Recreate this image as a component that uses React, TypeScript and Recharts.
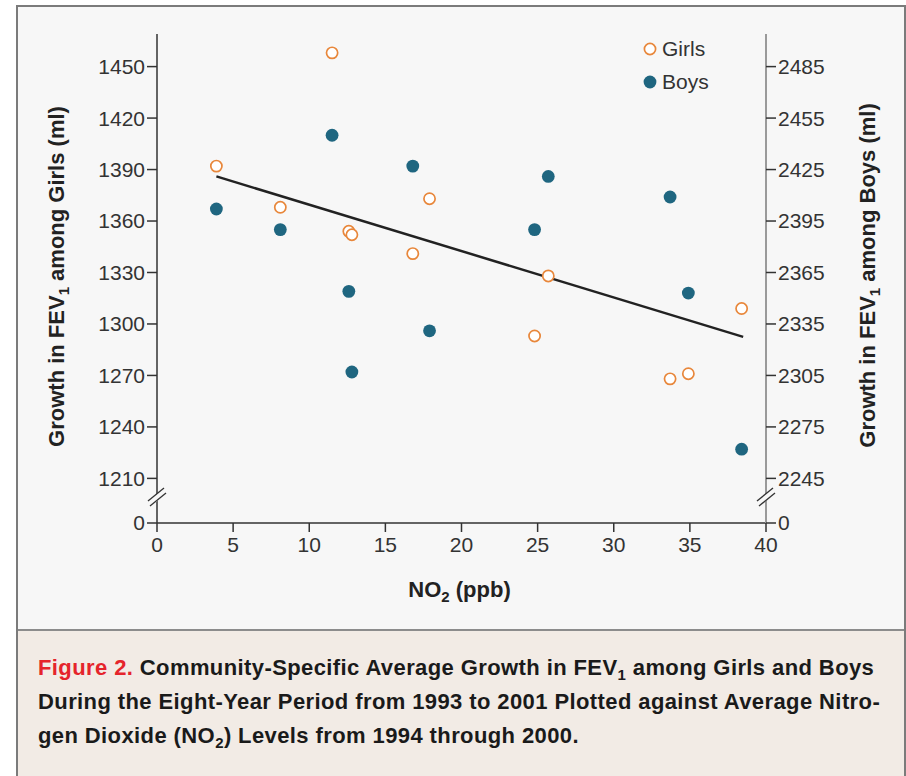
import React from 'react';
import { ScatterChart, Scatter, XAxis, YAxis, ReferenceLine, Legend } from 'recharts';

// ---- data ----
const girlsNO2 = [3.9, 11.5, 8.1, 12.6, 12.8, 17.9, 16.8, 25.7, 24.8, 38.4, 33.7, 34.9];
const girlsFEV = [1392, 1458, 1368, 1354, 1352, 1373, 1341, 1328, 1293, 1309, 1268, 1271];
const boysNO2 = [3.9, 8.1, 11.5, 16.8, 25.7, 24.8, 33.7, 12.6, 17.9, 12.8, 34.9, 38.4];
const boysFEV = [2402, 2390, 2445, 2427, 2421, 2390, 2409, 2354, 2331, 2307, 2353, 2262];
const trendNO2 = [3.9, 38.5];
const trendFEV = [1386, 1292.5];

const xTicks = [0, 5, 10, 15, 20, 25, 30, 35, 40];
const leftTicks = [1184, 1210, 1240, 1270, 1300, 1330, 1360, 1390, 1420, 1450];
const rightTicks = [2219, 2245, 2275, 2305, 2335, 2365, 2395, 2425, 2455, 2485];
const leftDomain = [1184, 1469];
const rightDomain = [2219, 2504];
const legendItems = [
  { name: 'Girls', color: '#e8873b', open: true },
  { name: 'Boys', color: '#1f6680', open: false },
];

const girls = girlsNO2.map((x, i) => ({ x, y: girlsFEV[i] }));
const boys = boysNO2.map((x, i) => ({ x, y: boysFEV[i] }));

const TICK_FONT = '"Liberation Sans", Arial, sans-serif';
const TITLE_FONT = '"Liberation Sans", Arial, sans-serif';

const GirlDot = (p: any) => (
  <circle cx={p.cx} cy={p.cy} r={5.6} fill="#ffffff" stroke="#e8873b" strokeWidth={1.7} />
);
const BoyDot = (p: any) => (
  <circle cx={p.cx} cy={p.cy} r={6.4} fill="#1f6680" stroke="none" />
);

const BreakMark = ({ x, y }: { x: number; y: number }) => (
  <g>
    <line x1={x - 8} y1={y + 7} x2={x + 8} y2={y - 6} stroke="#f7f7f7" strokeWidth={6} />
    <line x1={x - 9} y1={y + 4} x2={x + 7} y2={y - 9} stroke="#333" strokeWidth={1.3} />
    <line x1={x - 7} y1={y + 9} x2={x + 9} y2={y - 4} stroke="#333" strokeWidth={1.3} />
  </g>
);

const AxisTitle = ({ tx, ty, who }: { tx: number; ty: number; who: string }) => (
  <text
    transform={`translate(${tx},${ty}) rotate(-90)`}
    textAnchor="middle"
    fontFamily={TITLE_FONT}
    fontWeight="bold"
    fontSize={22}
    fill="#222"
  >
    Growth in FEV<tspan dy={5} fontSize={15}>1</tspan>
    <tspan dy={-5}>{` among ${who} (ml)`}</tspan>
  </text>
);

const LeftTitle = (props: any) => {
  const vb = props.viewBox;
  const ax = vb.x + vb.width;
  const bottom = vb.y + vb.height;
  return (
    <g>
      <BreakMark x={ax} y={bottom - 26} />
      <AxisTitle tx={64} ty={vb.y + vb.height / 2 - 2} who="Girls" />
    </g>
  );
};

const RightTitle = (props: any) => {
  const vb = props.viewBox;
  const bottom = vb.y + vb.height;
  return (
    <g>
      <BreakMark x={vb.x} y={bottom - 26} />
      <AxisTitle tx={875} ty={vb.y + vb.height / 2 - 3} who="Boys" />
    </g>
  );
};

const XTitle = (props: any) => {
  const vb = props.viewBox;
  return (
    <text
      x={vb.x + vb.width / 2 - 2}
      y={vb.y + 74}
      textAnchor="middle"
      fontFamily={TITLE_FONT}
      fontWeight="bold"
      fontSize={22}
      fill="#222"
    >
      NO<tspan dy={5} fontSize={15}>2</tspan>
      <tspan dy={-5}> (ppb)</tspan>
    </text>
  );
};

const LegendContent = () => (
  <div style={{ fontFamily: TICK_FONT, fontSize: 21, color: '#333' }}>
    {legendItems.map((it) => (
      <div key={it.name} style={{ display: 'flex', alignItems: 'center', height: 33 }}>
        <svg width={16} height={16} style={{ marginRight: 4 }}>
          {it.open ? (
            <circle cx={8} cy={8} r={5.6} fill="#fff" stroke={it.color} strokeWidth={1.7} />
          ) : (
            <circle cx={8} cy={8} r={6.4} fill={it.color} />
          )}
        </svg>
        <span>{it.name}</span>
      </div>
    ))}
  </div>
);

const subStyle: React.CSSProperties = { fontSize: 15, position: 'relative', top: 5, lineHeight: 0 };

export default function App() {
  return (
    <div style={{ position: 'absolute', left: 0, top: 0, width: 906, height: 776, overflow: 'hidden', background: '#ffffff' }}>
      <div style={{ position: 'absolute', left: 16, top: 5, width: 886, height: 820, border: '2px solid #7b7b7b', background: '#f7f7f7' }} />
      <div style={{ position: 'absolute', left: 18, top: 629, width: 886, height: 200, borderTop: '2px solid #8c8c8c', background: '#f2ebe5' }} />
      <div style={{ position: 'absolute', left: 0, top: 0 }}>
        <ScatterChart width={906} height={630} margin={{ top: 34, right: 80, bottom: 67, left: 97 }}>
          <XAxis
            type="number"
            dataKey="x"
            domain={[0, 40]}
            ticks={xTicks}
            interval={0}
            height={40}
            tickSize={9}
            tickMargin={5}
            axisLine={{ stroke: '#333', strokeWidth: 1.5 }}
            tickLine={{ stroke: '#333', strokeWidth: 1.5 }}
            tick={{ fontFamily: TICK_FONT, fontSize: 21, fill: '#333' }}
            label={{ content: XTitle }}
          />
          <YAxis
            yAxisId="left"
            type="number"
            dataKey="y"
            domain={leftDomain}
            ticks={leftTicks}
            interval={0}
            width={60}
            tickSize={10}
            tickMargin={2}
            tickFormatter={(v: number) => (v === leftTicks[0] ? '0' : String(v))}
            axisLine={{ stroke: '#333', strokeWidth: 1.5 }}
            tickLine={{ stroke: '#333', strokeWidth: 1.5 }}
            tick={{ fontFamily: TICK_FONT, fontSize: 21, fill: '#333' }}
            allowDataOverflow
            label={{ content: LeftTitle }}
          />
          <YAxis
            yAxisId="right"
            orientation="right"
            type="number"
            dataKey="y"
            domain={rightDomain}
            ticks={rightTicks}
            interval={0}
            width={60}
            tickSize={10}
            tickMargin={2}
            tickFormatter={(v: number) => (v === rightTicks[0] ? '0' : String(v))}
            axisLine={{ stroke: '#9a9a9a', strokeWidth: 2 }}
            tickLine={{ stroke: '#333', strokeWidth: 1.5 }}
            tick={{ fontFamily: TICK_FONT, fontSize: 21, fill: '#333' }}
            allowDataOverflow
            label={{ content: RightTitle }}
          />
          <ReferenceLine
            yAxisId="left"
            segment={[
              { x: trendNO2[0], y: trendFEV[0] },
              { x: trendNO2[1], y: trendFEV[1] },
            ]}
            stroke="#222"
            strokeWidth={2.5}
          />
          <Scatter name="Girls" yAxisId="left" data={girls} shape={GirlDot} isAnimationActive={false} />
          <Scatter name="Boys" yAxisId="right" data={boys} shape={BoyDot} isAnimationActive={false} />
          <Legend
            layout="vertical"
            align="center"
            verticalAlign="middle"
            wrapperStyle={{ position: 'absolute', left: 642, top: 32, width: 90, height: 66 }}
            content={LegendContent}
          />
        </ScatterChart>
      </div>
      <div
        style={{
          position: 'absolute',
          left: 38,
          top: 651,
          fontFamily: '"Liberation Sans", Arial, sans-serif',
          fontWeight: 'bold',
          fontSize: 22,
          letterSpacing: 0.4,
          lineHeight: '34px',
          color: '#1a1a1a',
          whiteSpace: 'nowrap',
        }}
      >
        <div>
          <span style={{ color: '#e5242b' }}>Figure 2.</span> Community-Specific Average Growth in FEV
          <span style={subStyle}>1</span> among Girls and Boys
        </div>
        <div>During the Eight-Year Period from 1993 to 2001 Plotted against Average Nitro-</div>
        <div>
          gen Dioxide (NO<span style={subStyle}>2</span>) Levels from 1994 through 2000.
        </div>
      </div>
    </div>
  );
}
